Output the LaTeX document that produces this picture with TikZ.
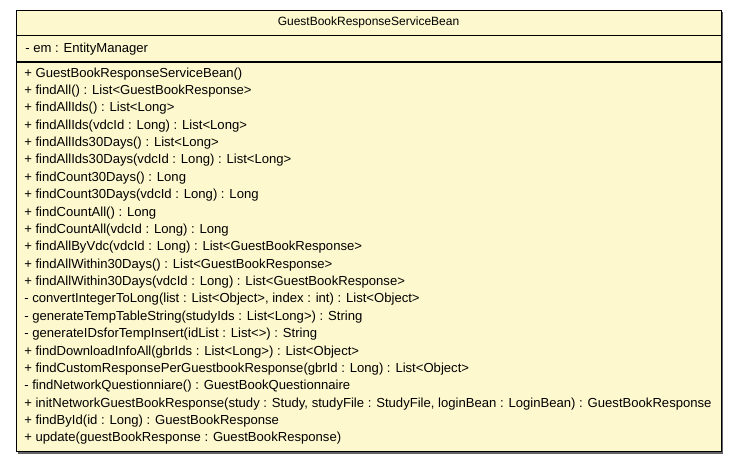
\documentclass[tikz,border=0pt]{standalone}
\usepackage{fontspec}
\setmainfont{Liberation Sans}
\usetikzlibrary{positioning, backgrounds}
\definecolor{classfill}{RGB}{254,248,206}
\definecolor{shadowgray}{RGB}{100,100,100}

\begin{document}
\begin{tikzpicture}[
            x=1pt, y=-1pt,
            node distance=0pt,
            compartment/.style={draw=black, fill=classfill, line width=0.8pt, minimum width=705pt, inner sep=0pt, font=\fontsize{12}{17.38}\selectfont},
            member/.style={anchor=west, inner sep=0pt, align=left, font=\fontsize{13.1}{17.38}\selectfont}
          ]
        \useasboundingbox (0,0) rectangle (737,461);

        \node[compartment, minimum height=25pt] (title) at (368.5,22.5) {GuestBookResponseServiceBean};
        \node[compartment, minimum height=26pt, below=of title] (attrs) {};
        \node[compartment, minimum height=389pt, below=of attrs] (ops) {};

        \node[member, right=9.5pt of attrs.west] (em) {- em : EntityManager};
        \node[member, right=8.5pt of ops.west, yshift=1pt] (oplist) {%
          + GuestBookResponseServiceBean()\\
          + findAll() : List<GuestBookResponse>\\
          + findAllIds() : List<Long>\\
          + findAllIds(vdcId : Long) : List<Long>\\
          + findAllIds30Days() : List<Long>\\
          + findAllIds30Days(vdcId : Long) : List<Long>\\
          + findCount30Days() : Long\\
          + findCount30Days(vdcId : Long) : Long\\
          + findCountAll() : Long\\
          + findCountAll(vdcId : Long) : Long\\
          + findAllByVdc(vdcId : Long) : List<GuestBookResponse>\\
          + findAllWithin30Days() : List<GuestBookResponse>\\
          + findAllWithin30Days(vdcId : Long) : List<GuestBookResponse>\\
          - convertIntegerToLong(list : List<Object>, index : int) : List<Object>\\
          - generateTempTableString(studyIds : List<Long>) : String\\
          - generateIDsforTempInsert(idList : List<>) : String\\
          + findDownloadInfoAll(gbrIds : List<Long>) : List<Object>\\
          + findCustomResponsePerGuestbookResponse(gbrId : Long) : List<Object>\\
          - findNetworkQuestionniare() : GuestBookQuestionnaire\\
          + initNetworkGuestBookResponse(study : Study, studyFile : StudyFile, loginBean : LoginBean) : GuestBookResponse\\
          + findById(id : Long) : GuestBookResponse\\
          + update(guestBookResponse : GuestBookResponse)};

        \begin{scope}[on background layer]
          \fill[shadowgray] ([shift={(2pt,-2pt)}]title.north west) rectangle ([shift={(2pt,-2pt)}]ops.south east);
        \end{scope}

        \end{tikzpicture}
\end{document}
